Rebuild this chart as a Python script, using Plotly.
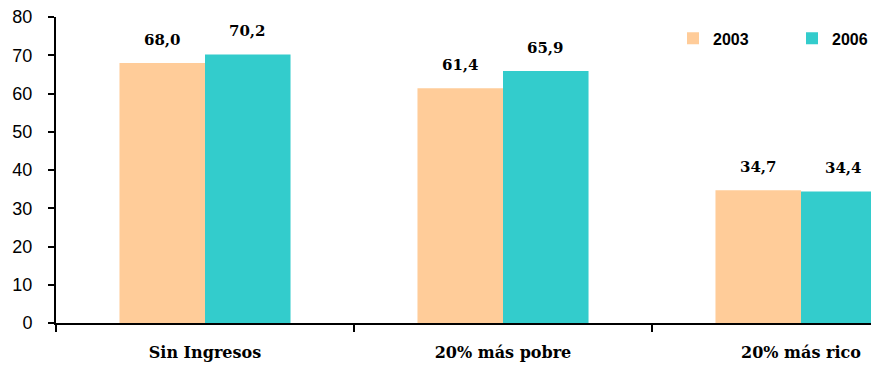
import plotly.graph_objects as go

categories = ["Sin Ingresos", "20% más pobre", "20% más rico"]
years = ["2003", "2006"]
values_2003 = [68.0, 61.4, 34.7]
values_2006 = [70.2, 65.9, 34.4]
y_ticks = [0, 10, 20, 30, 40, 50, 60, 70, 80]

colors = {"2003": "#FFCC99", "2006": "#33CCCC"}
series = {"2003": values_2003, "2006": values_2006}

fig = go.Figure()
for yr in years:
    fig.add_trace(go.Bar(
        x=categories, y=series[yr], name=yr,
        marker=dict(color=colors[yr], line=dict(width=0)),
    ))

# value labels above each bar, comma decimal
bar_px = 85
for yr, shift in zip(years, [-bar_px / 2, bar_px / 2]):
    for c, v in zip(categories, series[yr]):
        fig.add_annotation(
            x=c, y=v, xshift=shift, yshift=12,
            text=f"{v:.1f}".replace(".", ","),
            showarrow=False, yanchor="bottom",
            font=dict(family="DejaVu Serif", size=15, color="black", weight="bold"),
        )

plot_left = 56
plot_width = 871 - plot_left
cat_px = 298

fig.update_layout(
    width=871, height=370,
    margin=dict(l=plot_left, r=0, t=17, b=47, autoexpand=False),
    paper_bgcolor="white", plot_bgcolor="white",
    barmode="group", bargap=0.426, bargroupgap=0,
    showlegend=True,
    legend=dict(
        orientation="h", x=(673 - plot_left) / plot_width, xanchor="left",
        y=0.93, yanchor="middle",
        font=dict(family="Liberation Sans", size=16, color="black", weight="bold"),
        itemwidth=30, tracegroupgap=0, entrywidth=74,
        bgcolor="rgba(0,0,0,0)",
    ),
    xaxis=dict(
        type="category", automargin=False,
        range=[-0.5, -0.5 + plot_width / cat_px],
        showline=True, linecolor="black", linewidth=2,
        ticks="outside", tickson="boundaries", ticklen=7, tickwidth=1.5, tickcolor="black",
        tickfont=dict(family="DejaVu Serif", size=16, color="black", weight="bold"),
        ticklabelstandoff=14,
        showgrid=False, zeroline=False,
    ),
    yaxis=dict(
        range=[0, 80], tickvals=y_ticks, automargin=False,
        showline=True, linecolor="black", linewidth=2,
        ticks="outside", ticklen=6, tickwidth=1.5, tickcolor="black",
        tickfont=dict(family="Liberation Sans", size=18, color="black"),
        ticklabelstandoff=12,
        showgrid=False, zeroline=False,
    ),
)

fig.write_html("out.html")
